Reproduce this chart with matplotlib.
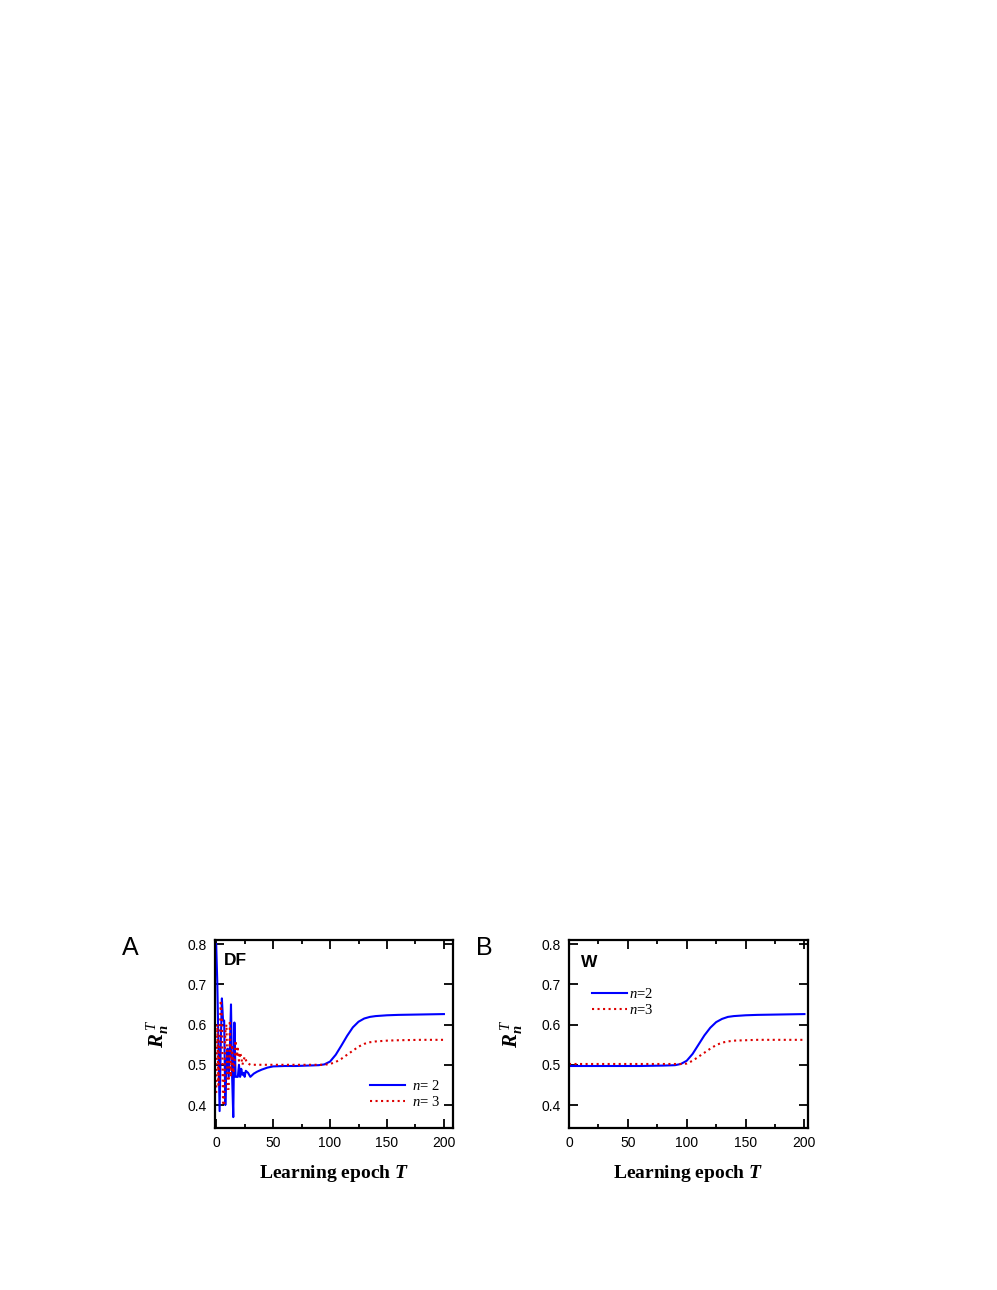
"""
Two-panel plot: R_n^T vs learning epoch T for DF and W.
"""

import matplotlib
matplotlib.use("Agg")
import matplotlib.pyplot as plt
from matplotlib.ticker import MultipleLocator

plt.rcParams["font.family"] = ["Liberation Sans", "DejaVu Sans"]
plt.rcParams["mathtext.fontset"] = "custom"
plt.rcParams["mathtext.rm"] = "Liberation Serif"
plt.rcParams["mathtext.it"] = "Liberation Serif:italic"
plt.rcParams["mathtext.bf"] = "Liberation Serif:bold"
plt.rcParams["mathtext.bfit"] = "Liberation Serif:bold:italic"

# ── Data ──────────────────────────────────────────────────────────────────────
df_t_n2 = [0, 1, 3, 4, 5, 6, 7, 8, 9, 10, 11, 12, 13, 14, 15, 16, 17, 18, 19,
           20, 21, 22, 23, 24, 25, 26, 28, 30, 33, 36, 40, 45, 50, 60, 70, 80,
           90, 95, 100, 105, 110, 115, 120, 125, 130, 135, 140, 150, 160, 180, 200]
df_r_n2 = [0.80, 0.70, 0.385, 0.55, 0.665, 0.61, 0.61, 0.40, 0.50, 0.54, 0.47,
           0.54, 0.65, 0.47, 0.37, 0.605, 0.47, 0.47, 0.47, 0.50, 0.47, 0.49,
           0.475, 0.48, 0.47, 0.485, 0.48, 0.47, 0.478, 0.483, 0.488, 0.493,
           0.496, 0.497, 0.497, 0.498, 0.499, 0.501, 0.508, 0.525, 0.548, 0.572,
           0.593, 0.607, 0.615, 0.619, 0.621, 0.623, 0.624, 0.625, 0.626]

df_t_n3 = [0, 1, 2, 4, 5, 6, 7, 8, 9, 10, 11, 12, 13, 14, 15, 16, 17, 18, 19,
           20, 21, 22, 23, 25, 27, 30, 40, 60, 80, 95, 100, 105, 110, 115, 120,
           125, 130, 135, 140, 150, 160, 180, 200]
df_r_n3 = [0.43, 0.60, 0.45, 0.66, 0.62, 0.40, 0.40, 0.58, 0.60, 0.44, 0.44,
           0.61, 0.47, 0.55, 0.48, 0.50, 0.56, 0.52, 0.54, 0.51, 0.53, 0.52,
           0.50, 0.52, 0.505, 0.50, 0.50, 0.50, 0.50, 0.50, 0.502, 0.507,
           0.515, 0.525, 0.535, 0.545, 0.552, 0.556, 0.558, 0.560, 0.561,
           0.562, 0.562]

w_t = [0, 20, 40, 60, 80, 90, 95, 100, 105, 110, 115, 120, 125, 130, 135,
       140, 150, 160, 180, 200]
w_r_n2 = [0.497, 0.497, 0.497, 0.497, 0.498, 0.499, 0.502, 0.510, 0.527, 0.550,
          0.573, 0.592, 0.606, 0.614, 0.619, 0.621, 0.623, 0.624, 0.625, 0.626]
w_r_n3 = [0.502, 0.502, 0.502, 0.502, 0.502, 0.502, 0.502, 0.503, 0.510, 0.520,
          0.530, 0.540, 0.549, 0.555, 0.558, 0.560, 0.561, 0.562, 0.562, 0.562]

Y_TICKS = [0.4, 0.5, 0.6, 0.7, 0.8]
X_TICKS = [0, 50, 100, 150, 200]

BLUE = "#0000ff"
RED = "#dd0000"


def style_axes(ax, xlim):
    ax.set_xlim(*xlim)
    ax.set_ylim(0.343, 0.81)
    ax.set_xticks(X_TICKS)
    ax.set_yticks(Y_TICKS)
    ax.set_yticklabels([f"{v:.1f}" for v in Y_TICKS])
    ax.xaxis.set_minor_locator(MultipleLocator(25))
    ax.tick_params(which="both", direction="in", top=True, right=True,
                   labelsize=10, width=1.3, pad=6)
    ax.tick_params(which="major", length=6.5)
    ax.tick_params(which="minor", length=3)
    for sp in ax.spines.values():
        sp.set_linewidth(1.6)
    ax.set_ylabel(r"$\mathbfit{R}_{\mathbfit{n}}^{\ \mathit{T}}$",
                  fontsize=15, labelpad=12)
    ax.set_xlabel(r"Learning epoch $\mathbfit{T}$", fontsize=14,
                  fontweight="bold", family="Liberation Serif", labelpad=9)


fig = plt.figure(figsize=(9.97, 12.9), dpi=100)

# ── Panel A: DF ───────────────────────────────────────────────────────────────
axA = fig.add_axes([0.2157, 0.1256, 0.2387, 0.1457])
axA.plot(df_t_n2, df_r_n2, color=BLUE, lw=1.5, label=r"$n$= 2")
axA.plot(df_t_n3, df_r_n3, color=RED, lw=1.5, ls=":", label=r"$n$= 3")
style_axes(axA, (-1, 208))
axA.text(0.035, 0.93, "DF", transform=axA.transAxes, fontsize=12.5,
         fontweight="bold", va="top")
axA.legend(loc="lower right", bbox_to_anchor=(0.97, 0.07), frameon=False,
           handlelength=2.4, handletextpad=0.5, labelspacing=0.15,
           borderaxespad=0.0, prop={"family": "Liberation Serif", "size": 10.5})
fig.text(0.122, 0.265, "A", fontsize=18, va="center")

# ── Panel B: W ────────────────────────────────────────────────────────────────
axB = fig.add_axes([0.5707, 0.1256, 0.2397, 0.1457])
axB.plot(w_t, w_r_n2, color=BLUE, lw=1.5, label=r"$n$=2")
axB.plot(w_t, w_r_n3, color=RED, lw=1.5, ls=":", label=r"$n$=3")
style_axes(axB, (0, 203))
axB.text(0.05, 0.92, "W", transform=axB.transAxes, fontsize=12.5,
         fontweight="bold", va="top")
axB.legend(loc="upper left", bbox_to_anchor=(0.07, 0.78), frameon=False,
           handlelength=2.4, handletextpad=0.2, labelspacing=0.15,
           borderaxespad=0.0, prop={"family": "Liberation Serif", "size": 10.5})
fig.text(0.477, 0.265, "B", fontsize=18, va="center")

fig.savefig("out.png", dpi=100)
